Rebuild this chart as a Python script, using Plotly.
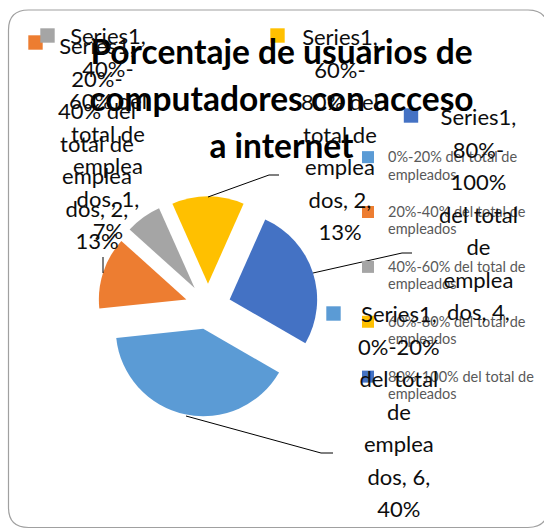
import re
import plotly.graph_objects as go

# ---------------- data ----------------
series_name = "Series1"
categories = [
    "0%-20% del total de empleados",
    "20%-40% del total de empleados",
    "40%-60% del total de empleados",
    "60%-80% del total de empleados",
    "80%-100% del total de empleados",
]
values = [6, 2, 1, 2, 4]
colors = ["#5B9BD5", "#ED7D31", "#A5A5A5", "#FFC000", "#4472C4"]
title_lines = ["Porcentaje de usuarios de", "computadores con acceso", "a internet"]

# ---------------- layout constants (pixels) ----------------
W, H = 544, 529
PIE_CENTER = (208, 306.5)
PIE_HALF = 110.25
PULL = 0.26
ROTATION = 120

# (centre x, first-line baseline y) of each data label
label_pos = [(399, 322), (97, 54), (107.5, 44), (340, 45), (478, 125)]
key_pos = [(333.5, 313.5), (35.5, 42.5), (47.5, 35.5), (277.5, 35.5), (411, 115.5)]
leaders = [
    [(186, 416), (321, 453), (333, 453)],
    [(103, 257), (103, 273)],
    [],
    [(208, 197), (269, 175), (279, 175)],
    [(313, 273), (402, 253), (412, 253)],
]
label_max_lines = 7

FONT = "Lato, 'Open Sans', sans-serif"


def px(x):
    return x / W


def py(y):
    return 1 - y / H


# approximate Calibri advance widths (em) used to wrap the labels like Excel
CW = {
    "0": .507, "1": .507, "2": .507, "3": .507, "4": .507, "5": .507, "6": .507,
    "7": .507, "8": .507, "9": .507, "%": .715, "-": .306, " ": .226, ",": .25,
    "S": .459, "e": .498, "r": .349, "i": .229, "s": .391, "d": .525, "l": .229,
    "t": .335, "o": .527, "a": .479, "m": .799, "p": .525,
}


def tw(s):
    return sum(CW.get(c, .5) for c in s)


def wrap(text, max_em=3.45):
    lines, cur = [], ""
    for word in text.split(" "):
        parts = [p for p in re.split(r"(?<=-)", word) if p]
        for j, part in enumerate(parts):
            sep = "" if j > 0 else " "
            cand = (cur + sep + part) if cur else part
            if tw(cand) <= max_em:
                cur = cand
                continue
            if cur:
                lines.append(cur)
            cur = ""
            while tw(part) > max_em:
                k = len(part)
                while k > 1 and tw(part[:k]) > max_em:
                    k -= 1
                lines.append(part[:k])
                part = part[k:]
            cur = part
    if cur:
        lines.append(cur)
    return lines


total = sum(values)
pcts = [f"{round(v / total * 100)}%" for v in values]

legend_labels = []
for c in categories:
    head, tail = c.rsplit(" ", 1)
    legend_labels.append(
        f"<span style='font-size:14.5px'>{head}</span><br>"
        f"<span style='font-size:14.5px'>{tail}</span><br>\u00a0"
    )

fig = go.Figure(
    go.Pie(
        labels=legend_labels,
        values=values,
        marker=dict(colors=colors, line=dict(width=0)),
        sort=False,
        direction="clockwise",
        rotation=ROTATION,
        pull=[PULL] * len(values),
        textinfo="none",
        hoverinfo="label+value+percent",
        domain=dict(
            x=[px(PIE_CENTER[0] - PIE_HALF), px(PIE_CENTER[0] + PIE_HALF)],
            y=[py(PIE_CENTER[1] + PIE_HALF), py(PIE_CENTER[1] - PIE_HALF)],
        ),
    )
)

shapes = []
# chart frame
r = 20
x0, x1, y0, y1 = 8.5, 548, 10, 527.5
frame = (
    f"M {px(x0)},{py(y0 + r)} L {px(x0)},{py(y1 - r)} "
    f"Q {px(x0)},{py(y1)} {px(x0 + r)},{py(y1)} L {px(x1 - r)},{py(y1)} "
    f"Q {px(x1)},{py(y1)} {px(x1)},{py(y1 - r)} L {px(x1)},{py(y0 + r)} "
    f"Q {px(x1)},{py(y0)} {px(x1 - r)},{py(y0)} L {px(x0 + r)},{py(y0)} "
    f"Q {px(x0)},{py(y0)} {px(x0)},{py(y0 + r)} Z"
)
shapes.append(dict(type="path", xref="paper", yref="paper", path=frame,
                   line=dict(color="#A0A0A0", width=1.2), layer="below"))

annotations = []
for i, cat in enumerate(categories):
    full = f"{series_name}, {cat}, {values[i]}, {pcts[i]}"
    lines = wrap(full)[:label_max_lines]
    txt = "<br>".join(f"<span style='font-size:22px'>{ln}</span>" for ln in lines)
    lx, base_y = label_pos[i]
    annotations.append(dict(
        text=txt, x=px(lx), y=py(base_y - 23.7), xref="paper", yref="paper",
        xanchor="center", yanchor="top", align="center", showarrow=False,
        font=dict(family=FONT, size=25, color="#0D0D0D"),
    ))
    kx, ky = key_pos[i]
    shapes.append(dict(type="rect", xref="paper", yref="paper",
                       x0=px(kx - 7.2), x1=px(kx + 7.2), y0=py(ky + 7.2), y1=py(ky - 7.2),
                       fillcolor=colors[i], line=dict(width=0)))
    pts = leaders[i]
    if pts:
        path = "M " + " L ".join(f"{px(a)},{py(b)}" for a, b in pts)
        shapes.append(dict(type="path", xref="paper", yref="paper", path=path,
                           line=dict(color="#000000", width=1)))

title_text = "<br>".join(f"<span style='font-size:33.5px'>{t}</span>" for t in title_lines)

fig.update_layout(
    width=W, height=H,
    margin=dict(l=0, r=0, t=0, b=0),
    paper_bgcolor="white", plot_bgcolor="white",
    title=dict(text=title_text, x=px(281.5), xanchor="center", y=py(64), yanchor="top",
               font=dict(family=FONT, size=36, color="#000000", weight=700)),
    showlegend=True,
    legend=dict(
        x=px(348), xanchor="left", y=py(142), yanchor="top",
        bgcolor="rgba(0,0,0,0)", borderwidth=0, valign="top",
        font=dict(family=FONT, size=13.3, color="#595959"),
        traceorder="normal",
    ),
    shapes=shapes,
    annotations=annotations,
)

fig.write_html(
    "out.html",
    config={"displayModeBar": False},
    post_script="document.body.style.margin='0px';",
)
